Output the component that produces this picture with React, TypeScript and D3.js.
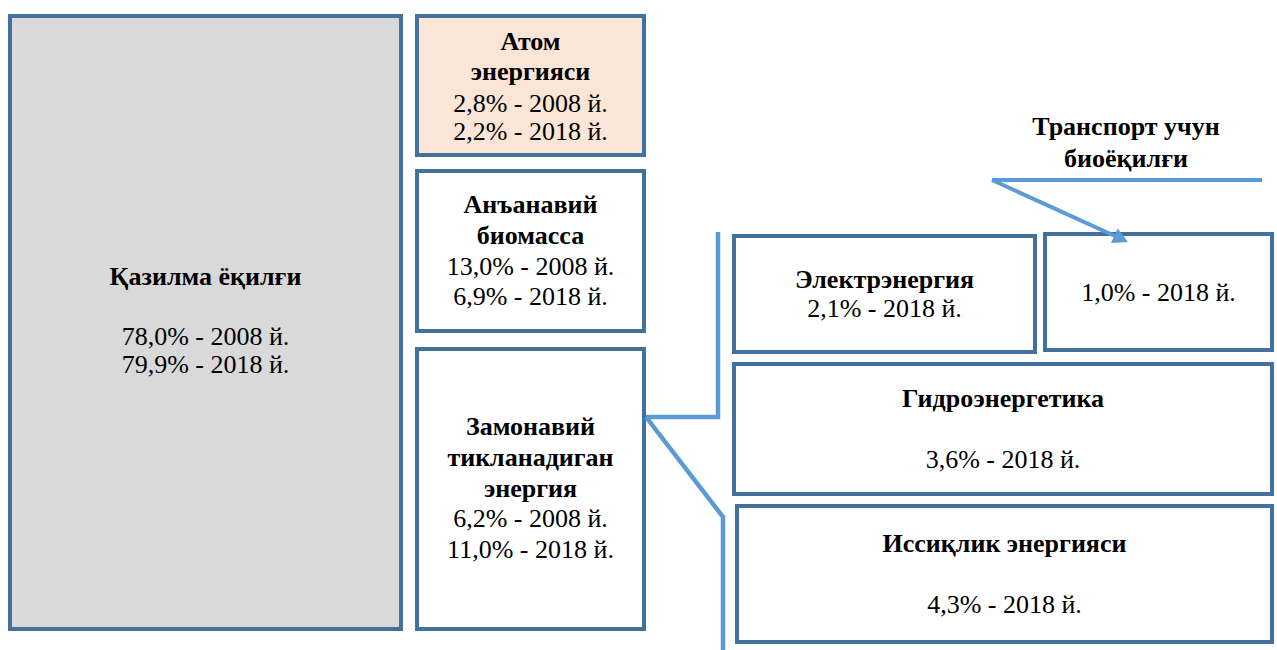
import React from "react";
import * as d3 from "d3";

// ---- data ----
const categories = [
  "Қазилма ёқилғи",
  "Атом энергияси",
  "Анъанавий биомасса",
  "Замонавий тикланадиган энергия",
  "Электрэнергия",
  "Транспорт учун биоёқилғи",
  "Гидроэнергетика",
  "Иссиқлик энергияси",
];
const share2008: (number | null)[] = [78.0, 2.8, 13.0, 6.2, null, null, null, null];
const share2018: number[] = [79.9, 2.2, 6.9, 11.0, 2.1, 1.0, 3.6, 4.3];
const years = [2008, 2018];

// ---- layout (positions only) ----
type Box = {
  x: number; y: number; w: number; h: number; fill: string;
  title?: string[]; titleY?: number[]; valY?: number[];
};
const BORDER = "#41719C";
const LINK = "#5B9BD5";

const boxes: Box[] = [
  { x: 10, y: 16, w: 391, h: 613, fill: "#D9D9D9", title: ["Қазилма ёқилғи"], titleY: [285], valY: [345, 373] },
  { x: 417, y: 16, w: 227, h: 139, fill: "#FBE5D6", title: ["Атом", "энергияси"], titleY: [50, 80], valY: [112, 140] },
  { x: 417, y: 171, w: 227, h: 160, fill: "#FFFFFF", title: ["Анъанавий", "биомасса"], titleY: [213, 244], valY: [275, 305] },
  { x: 417, y: 349, w: 227, h: 280, fill: "#FFFFFF", title: ["Замонавий", "тикланадиган", "энергия"], titleY: [435, 466, 497], valY: [527, 558] },
  { x: 734, y: 236, w: 301, h: 116, fill: "#FFFFFF", title: ["Электрэнергия"], titleY: [288], valY: [317] },
  { x: 1045, y: 234, w: 227, h: 116, fill: "#FFFFFF", title: [], titleY: [], valY: [301] },
  { x: 734, y: 364, w: 538, h: 130, fill: "#FFFFFF", title: ["Гидроэнергетика"], titleY: [407], valY: [468] },
  { x: 737, y: 506, w: 535, h: 136, fill: "#FFFFFF", title: ["Иссиқлик энергияси"], titleY: [552], valY: [613] },
];

const fmt = (v: number) => d3.format(".1f")(v).replace(".", ",") + "%";

const FONT = '"Liberation Serif"';
const FS = 26;
const textStyle: React.CSSProperties = { fontFamily: FONT, fontSize: FS };

function T({ x, y, bold, children }: { x: number; y: number; bold?: boolean; children: React.ReactNode }) {
  return (
    <text
      x={x}
      y={y}
      textAnchor="middle"
      fill="#000"
      style={{ ...textStyle, fontWeight: bold ? "bold" : "normal" }}
    >
      {children}
    </text>
  );
}

export default function App() {
  const line = d3.line<[number, number]>();
  const connectorTop = line([[718, 232], [718, 417], [646, 417]]);
  const connectorBottom = line([[646, 417], [723, 517], [723, 650]]);
  const calloutBar = line([[1262, 180], [992, 180]]);
  const a0: [number, number] = [992, 180];
  const tip: [number, number] = [1128, 242];
  const ang = Math.atan2(tip[1] - a0[1], tip[0] - a0[0]);
  const headLen = 15, headW = 8;
  const base: [number, number] = [tip[0] - headLen * Math.cos(ang), tip[1] - headLen * Math.sin(ang)];
  const nx = -Math.sin(ang), ny = Math.cos(ang);
  const head = d3.line<[number, number]>()([
    tip,
    [base[0] + nx * headW, base[1] + ny * headW],
    [base[0] - nx * headW, base[1] - ny * headW],
  ]) + "Z";

  return (
    <svg
      width={1277}
      height={650}
      style={{ position: "absolute", left: 0, top: 0, background: "#fff" }}
    >
      {boxes.map((b, i) => {
        const cx = b.x + b.w / 2;
        const vals: string[] = [];
        if (share2008[i] != null) vals.push(`${fmt(share2008[i] as number)} - ${years[0]} й.`);
        vals.push(`${fmt(share2018[i])} - ${years[1]} й.`);
        const valY = b.valY || [];
        return (
          <g key={i}>
            <rect x={b.x} y={b.y} width={b.w} height={b.h} fill={b.fill} stroke={BORDER} strokeWidth={4} />
            {(b.title || []).map((t, j) => (
              <T key={"t" + j} x={cx} y={(b.titleY || [])[j]} bold>{t}</T>
            ))}
            {vals.map((t, j) => (
              <T key={"v" + j} x={cx} y={valY[j]}>{t}</T>
            ))}
          </g>
        );
      })}

      <path d={connectorTop || ""} fill="none" stroke={LINK} strokeWidth={4.5} />
      <path d={connectorBottom || ""} fill="none" stroke={LINK} strokeWidth={4.5} />

      <T x={1126} y={135} bold>Транспорт учун</T>
      <T x={1126} y={167} bold>биоёқилғи</T>
      <path d={calloutBar || ""} fill="none" stroke={LINK} strokeWidth={4} />
      <line x1={a0[0]} y1={a0[1]} x2={base[0]} y2={base[1]} stroke={LINK} strokeWidth={4} />
      <path d={head} fill={LINK} />
    </svg>
  );
}
